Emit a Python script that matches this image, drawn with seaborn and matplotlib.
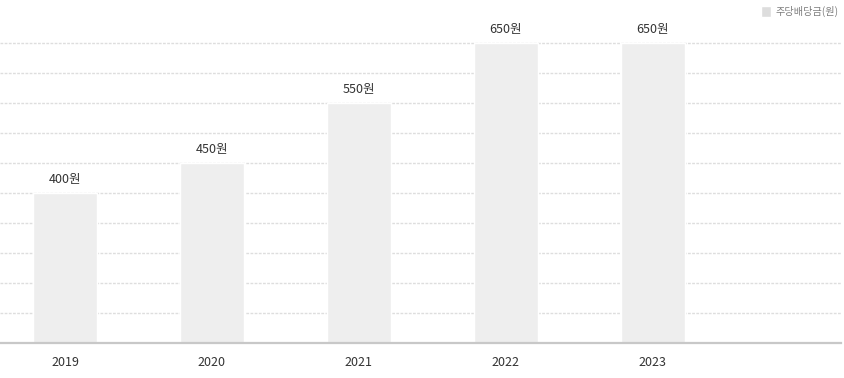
import matplotlib
matplotlib.use("Agg")
import matplotlib.pyplot as plt
import seaborn as sns
import pandas as pd

years = ["2019", "2020", "2021", "2022", "2023"]
dividends = [400, 450, 550, 650, 650]
series_name = "주당배당금(원)"
value_labels = [f"{v}원" for v in dividends]
grid_values = [200, 250, 300, 350, 400, 450, 500, 550, 600, 650]

sns.set_theme(style="white")
plt.rcParams["font.family"] = ["Noto Sans CJK KR", "DejaVu Sans"]

df = pd.DataFrame({"year": years, "value": dividends, "series": series_name})

fig = plt.figure(figsize=(8.45, 3.78), dpi=100)
ax = fig.add_axes([0, 1 - 343 / 378, 841 / 845, 343 / 378])

sns.barplot(data=df, x="year", y="value", hue="series", dodge=False,
            palette=["#eeeeee"], width=0.435, ax=ax, zorder=2)

ax.set_xlim(-0.442, 5.28)
ax.set_ylim(150, 150 + 343 / 0.6)
ax.set_yticks(grid_values)
ax.set_yticklabels([])
ax.tick_params(axis="y", length=0)
ax.grid(axis="y", color="#dedede", linestyle=(0, (2, 1)), linewidth=1, zorder=0)
ax.set_axisbelow(True)

for s in ["top", "right", "left"]:
    ax.spines[s].set_visible(False)
ax.spines["bottom"].set_color("#c8c8c8")
ax.spines["bottom"].set_linewidth(1.6)

ax.tick_params(axis="x", length=0, pad=9, labelsize=9, labelcolor="#333333")
ax.set_xlabel("")
ax.set_ylabel("")

for container in ax.containers:
    ax.bar_label(container, labels=value_labels, padding=5, fontsize=9,
                 color="#333333")

leg = ax.legend(loc="upper right", bbox_to_anchor=(1.0, 1.0),
                bbox_transform=fig.transFigure, frameon=False,
                fontsize=7.3, handlelength=1.0, handleheight=1.2,
                handletextpad=0.5, borderaxespad=0.4, borderpad=0.2)
for t in leg.get_texts():
    t.set_color("#7d7d7d")
for h in leg.legend_handles:
    h.set_facecolor("#dddddd")

fig.savefig("out.png", dpi=100)
